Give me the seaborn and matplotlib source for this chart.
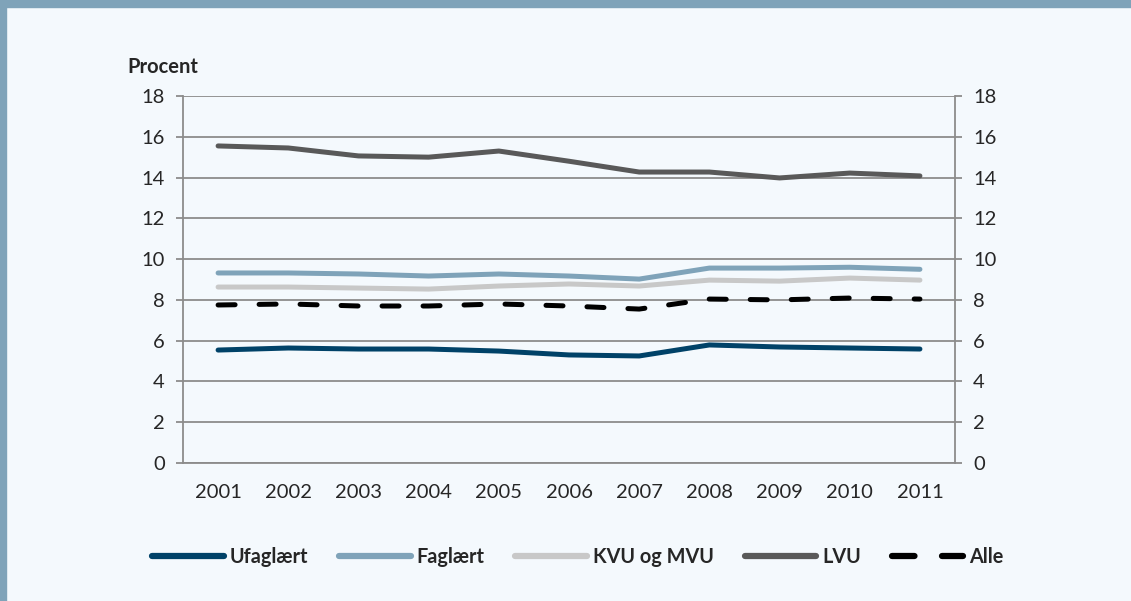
import matplotlib
matplotlib.use("Agg")
import matplotlib.pyplot as plt
from matplotlib.ticker import MultipleLocator, FixedLocator, NullFormatter
import seaborn as sns
import pandas as pd

years = list(range(2001, 2012))
ufaglaert = [5.54, 5.64, 5.59, 5.59, 5.49, 5.30, 5.25, 5.79, 5.69, 5.64, 5.59]
faglaert = [9.32, 9.32, 9.27, 9.17, 9.27, 9.17, 9.02, 9.56, 9.56, 9.60, 9.50]
kvu_mvu = [8.63, 8.63, 8.58, 8.53, 8.68, 8.78, 8.68, 8.97, 8.92, 9.07, 8.97]
lvu = [15.55, 15.45, 15.06, 15.00, 15.30, 14.80, 14.27, 14.27, 13.98, 14.22, 14.08]
alle = [7.75, 7.80, 7.70, 7.70, 7.80, 7.70, 7.55, 8.04, 8.00, 8.09, 8.04]

series = {
    "Ufaglært": ufaglaert,
    "Faglært": faglaert,
    "KVU og MVU": kvu_mvu,
    "LVU": lvu,
    "Alle": alle,
}
palette = {
    "Ufaglært": "#004268",
    "Faglært": "#7fa3b9",
    "KVU og MVU": "#c8c8c8",
    "LVU": "#595959",
    "Alle": "#000000",
}

rows = []
for name, vals in series.items():
    for y, v in zip(years, vals):
        rows.append((y, name, v))
df = pd.DataFrame(rows, columns=["year", "group", "value"])

bg = "#f4f9fd"
frame = "#7fa3b9"
grid = "#8c8c8c"

sns.set_style("white")
plt.rcParams["font.family"] = ["Lato", "DejaVu Sans"]

fig = plt.figure(figsize=(11.31, 6.01), dpi=100)
fig.patch.set_facecolor(bg)
ax = fig.add_axes([0.1618, 0.2296, 0.6826, 0.6107])
ax.set_facecolor(bg)

sns.lineplot(data=df, x="year", y="value", hue="group", style="group",
             palette=palette, dashes={k: "" for k in series} | {"Alle": (3.4, 4.8)},
             linewidth=3.6, ax=ax, legend=False)
for line in ax.lines:
    line.set_solid_capstyle("round")
    line.set_dash_capstyle("round")

ax.set_xlim(2000.5, 2011.5)
ax.set_ylim(0, 18)
ax.yaxis.set_major_locator(MultipleLocator(2))
ax.xaxis.set_major_locator(FixedLocator(years))
ax.xaxis.set_minor_locator(FixedLocator([y + 0.5 for y in range(2000, 2012)]))
ax.xaxis.set_minor_formatter(NullFormatter())
ax.set_xticklabels([str(y) for y in years])
ax.tick_params(axis="x", which="major", length=0, pad=15, labelsize=14.5)
ax.tick_params(axis="x", which="minor", length=5, width=1.3, color=grid, direction="out")
ax.tick_params(axis="y", length=5, width=1.3, color=grid, direction="out", labelsize=14.5,
               left=True, right=True, labelleft=True, labelright=True, pad=8)
ax.grid(axis="y", color=grid, linewidth=1.3)
ax.set_axisbelow(True)
for s in ax.spines.values():
    s.set_color(grid)
    s.set_linewidth(1.3)
ax.spines["top"].set_visible(False)
ax.set_xlabel("")
ax.set_ylabel("")

fig.text(0.113, 0.888, "Procent", fontsize=14.5, fontweight="bold", ha="left", va="center")

handles = [plt.Line2D([], [], color=palette[k], linewidth=4.5, solid_capstyle="round",
                      dash_capstyle="round", linestyle=(0, (3.6, 4.4)) if k == "Alle" else "-")
           for k in series]
leg = fig.legend(handles, list(series.keys()), loc="center", bbox_to_anchor=(0.511, 0.073),
                 ncol=5, frameon=False, handlelength=3.6, columnspacing=1.55, handletextpad=0.3,
                 prop={"weight": "bold", "size": 14.3})

# frame: top band and left border
fig.add_artist(plt.Rectangle((0, 1 - 7 / 601), 1, 7 / 601, transform=fig.transFigure,
                             color=frame, zorder=10))
fig.add_artist(plt.Rectangle((0, 0), 6 / 1131, 1, transform=fig.transFigure,
                             color=frame, zorder=10))

fig.savefig("out.png", dpi=100, facecolor=bg)
